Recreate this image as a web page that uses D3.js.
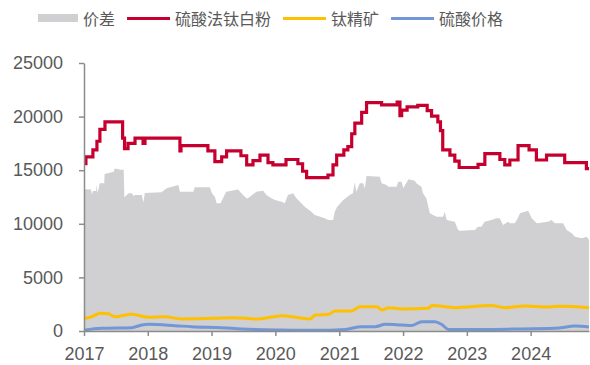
<!DOCTYPE html>
<html>
<head>
<meta charset="utf-8">
<script src="https://cdn.jsdelivr.net/npm/d3@7"></script>
<style>
  html, body { margin: 0; padding: 0; background: #fff; }
  svg { display: block; }
</style>
</head>
<body>
<svg id="chart" width="590" height="365"></svg>
<script>
// 硫酸法钛白粉价格（阶梯变动）
const tio2Dates = ["2017-01-01","2017-01-12","2017-02-21","2017-03-16","2017-04-02","2017-05-01","2017-08-10","2017-08-21","2017-09-10","2017-10-20","2017-12-05","2017-12-16","2018-07-04","2018-07-10","2018-12-11","2019-01-20","2019-02-28","2019-03-28","2019-06-18","2019-07-21","2019-08-26","2019-10-05","2019-11-20","2019-12-18","2020-03-02","2020-05-09","2020-06-05","2020-06-28","2020-10-28","2020-11-26","2020-12-17","2021-01-27","2021-02-19","2021-03-13","2021-03-31","2021-05-09","2021-06-06","2021-08-31","2021-11-28","2021-12-14","2021-12-24","2022-01-24","2022-03-26","2022-05-19","2022-06-13","2022-07-19","2022-08-03","2022-08-16","2022-09-26","2022-10-24","2022-11-18","2023-03-06","2023-04-14","2023-07-09","2023-08-06","2023-09-04","2023-10-21","2023-12-23","2024-02-03","2024-04-01","2024-07-14","2024-11-15","2024-11-30"];
const tio2Values = [15600,16250,16900,17700,18800,19500,18000,17000,17500,18000,17500,18000,16800,17300,16800,15800,16250,16800,16350,15500,15900,16400,15700,15500,16000,15600,14900,14300,14550,15500,16400,16900,17200,18400,19400,20400,21300,21100,21350,20100,20600,20900,21050,20550,20050,19500,18700,16900,16400,15850,15250,15550,16550,16000,15500,15950,17300,16900,15950,16400,15700,15150,15150];

// 价差
const spreadDates = ["2017-01-01","2017-01-06","2017-02-10","2017-02-15","2017-02-21","2017-03-12","2017-03-14","2017-03-20","2017-04-01","2017-04-27","2017-04-29","2017-06-20","2017-06-26","2017-07-30","2017-08-16","2017-08-20","2017-09-14","2017-10-01","2017-10-13","2017-10-19","2017-11-28","2017-12-07","2017-12-15","2018-03-21","2018-04-19","2018-06-25","2018-07-04","2018-09-19","2018-09-27","2018-12-22","2019-01-03","2019-01-20","2019-01-30","2019-02-22","2019-03-07","2019-03-26","2019-06-01","2019-06-21","2019-07-19","2019-07-28","2019-09-15","2019-10-23","2019-11-11","2019-12-10","2019-12-30","2020-02-06","2020-02-24","2020-03-13","2020-04-11","2020-05-01","2020-05-29","2020-06-17","2020-07-25","2020-08-14","2020-10-10","2020-10-29","2020-11-27","2020-12-06","2020-12-20","2021-01-15","2021-01-24","2021-03-01","2021-03-20","2021-03-30","2021-04-09","2021-04-28","2021-05-17","2021-05-27","2021-06-06","2021-08-21","2021-08-31","2021-09-29","2021-10-08","2021-11-25","2021-12-04","2021-12-24","2022-01-02","2022-02-01","2022-03-09","2022-03-18","2022-04-16","2022-04-25","2022-05-14","2022-06-03","2022-06-22","2022-07-11","2022-08-18","2022-08-28","2022-09-07","2022-10-24","2022-11-12","2022-11-22","2023-02-17","2023-03-05","2023-03-25","2023-04-13","2023-05-21","2023-06-19","2023-07-08","2023-07-27","2023-08-25","2023-09-04","2023-10-02","2023-10-14","2023-11-01","2023-11-29","2023-12-18","2024-01-07","2024-02-05","2024-04-10","2024-04-30","2024-05-18","2024-07-05","2024-07-25","2024-08-23","2024-09-11","2024-10-19","2024-11-17","2024-11-30"];
const spreadValues = [13200,13220,13200,12700,13050,13050,13700,12850,13780,13780,14650,14860,15170,15050,15050,12470,12840,12840,12590,12690,12690,11970,12870,12940,13310,13620,12990,12990,13400,13400,12840,12530,11910,11910,12380,12990,13210,12840,12380,12380,13000,13080,12690,12380,12220,12060,11910,12690,12840,12380,11910,11600,11130,10820,10510,10350,10350,11130,11600,12060,12220,12690,12840,13840,12990,13780,13780,13310,14460,14400,13780,13620,13460,13460,13930,13930,13310,14150,14020,13780,13460,12840,12380,10980,10820,10660,10660,11130,10350,10200,9420,9360,9420,9720,9720,10200,10350,10510,10510,9890,10200,10050,10050,10350,10980,11130,11220,10510,10050,10200,10350,10050,10050,9420,9110,8800,8650,8800,8490];

// 钛精矿
const oreDates = ["2017-01-01","2017-01-08","2017-02-14","2017-04-03","2017-05-20","2017-06-27","2017-10-01","2018-01-05","2018-04-09","2018-07-14","2019-01-22","2019-04-26","2019-09-26","2020-02-08","2020-05-12","2020-07-18","2020-08-16","2020-11-01","2020-12-09","2021-03-13","2021-04-30","2021-08-04","2021-09-02","2021-10-10","2021-12-25","2022-05-26","2022-06-14","2022-10-26","2023-05-23","2023-08-08","2023-12-01","2024-03-24","2024-06-09","2024-11-30"];
const oreValues = [1150,1180,1330,1650,1600,1330,1560,1280,1330,1120,1180,1240,1120,1430,1240,1120,1490,1560,1870,1870,2270,2270,1960,2180,2050,2120,2370,2180,2370,2180,2330,2240,2300,2180];

// 硫酸价格
const acidDates = ["2017-01-01","2017-04-12","2017-10-01","2017-11-28","2018-01-05","2018-06-06","2018-09-10","2019-02-28","2019-06-22","2020-02-08","2020-08-16","2021-02-05","2021-05-09","2021-07-25","2021-09-21","2021-12-25","2022-02-21","2022-04-18","2022-07-03","2022-08-11","2022-09-18","2023-03-27","2023-10-04","2024-05-20","2024-09-13","2024-11-30"];
const acidValues = [80,250,310,560,620,500,400,310,190,90,60,150,400,400,620,560,520,870,870,600,150,150,180,250,470,370];

const yTicks = [0, 5000, 10000, 15000, 20000, 25000];
const xTickYears = ["2017","2018","2019","2020","2021","2022","2023","2024"];
const legendLabels = ["价差", "硫酸法钛白粉", "钛精矿", "硫酸价格"];
const colors = { spread: "#d0cfd1", tio2: "#c5002f", ore: "#ffc000", acid: "#7197d6" };

const parse = d3.utcParse("%Y-%m-%d");
const zip = (ds, vs) => ds.map((d, i) => ({ date: parse(d), value: vs[i] }));
const tio2 = zip(tio2Dates, tio2Values);
const spread = zip(spreadDates, spreadValues);
const ore = zip(oreDates, oreValues);
const acid = zip(acidDates, acidValues);

const svg = d3.select("#chart");
const plotLeft = 84, plotRight = 589, plotTop = 63, plotBottom = 331;

const x = d3.scaleUtc()
  .domain([parse("2017-01-01"), parse("2024-11-30")])
  .range([plotLeft, plotRight]);
const y = d3.scaleLinear().domain([0, 25000]).range([plotBottom, plotTop]);

// 价差面积
svg.append("path")
  .datum(spread)
  .attr("fill", colors.spread)
  .attr("d", d3.area()
    .x(d => x(d.date))
    .y0(y(0))
    .y1(d => y(d.value)));

const lineGen = curve => d3.line().x(d => x(d.date)).y(d => y(d.value)).curve(curve);

svg.append("path").datum(acid)
  .attr("fill", "none").attr("stroke", colors.acid).attr("stroke-width", 3)
  .attr("d", lineGen(d3.curveMonotoneX));

svg.append("path").datum(ore)
  .attr("fill", "none").attr("stroke", colors.ore).attr("stroke-width", 3)
  .attr("d", lineGen(d3.curveMonotoneX));

svg.append("path").datum(tio2)
  .attr("fill", "none").attr("stroke", colors.tio2).attr("stroke-width", 3.2)
  .attr("stroke-linejoin", "miter")
  .attr("d", lineGen(d3.curveStepAfter));

// 坐标轴
const axisColor = "#8c8c8c";
const textColor = "#595959";

const yAxis = svg.append("g")
  .attr("transform", `translate(${plotLeft},0)`)
  .call(d3.axisLeft(y).tickValues(yTicks).tickSize(5).tickSizeOuter(0).tickPadding(16).tickFormat(d3.format("d")));

const xAxis = svg.append("g")
  .attr("transform", `translate(0,${plotBottom})`)
  .call(d3.axisBottom(x)
    .tickValues(xTickYears.map(yr => parse(yr + "-01-01")))
    .tickSize(5).tickSizeOuter(0).tickPadding(11)
    .tickFormat(d3.utcFormat("%Y")));

[yAxis, xAxis].forEach(g => {
  g.select(".domain").attr("stroke", axisColor).attr("stroke-width", 1.5);
  g.selectAll(".tick line").attr("stroke", axisColor).attr("stroke-width", 1.5);
  g.selectAll(".tick text")
    .attr("fill", textColor)
    .style("font-family", "'Liberation Sans', Arial, sans-serif")
    .style("font-size", "18px");
});

// 图例
const legend = svg.append("g").attr("transform", "translate(0,18)");
const legendKinds = ["spread", "tio2", "ore", "acid"];
let cursor = 38;
legendLabels.forEach((label, i) => {
  const kind = legendKinds[i];
  if (kind === "spread") {
    legend.append("rect").attr("x", cursor).attr("y", -4).attr("width", 40).attr("height", 8).attr("fill", colors.spread);
    cursor += 45;
  } else {
    legend.append("line").attr("x1", cursor).attr("x2", cursor + 43).attr("y1", 0.5).attr("y2", 0.5)
      .attr("stroke", colors[kind]).attr("stroke-width", 3);
    cursor += 48;
  }
  const t = legend.append("text")
    .attr("x", cursor).attr("y", 0)
    .attr("dominant-baseline", "central")
    .attr("fill", textColor)
    .style("font-family", "'Noto Sans CJK SC', sans-serif")
    .style("font-size", "16px")
    .text(label);
  cursor += t.node().getComputedTextLength() + 12;
});
</script>
</body>
</html>
